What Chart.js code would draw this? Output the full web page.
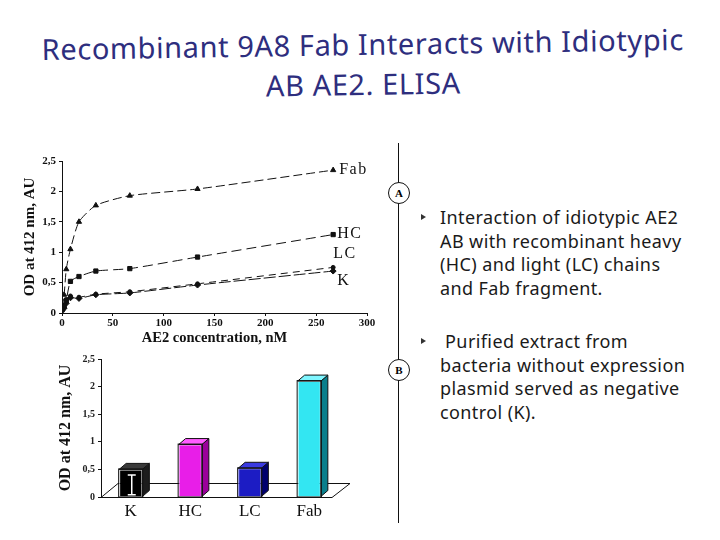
<!DOCTYPE html>
<html>
<head>
<meta charset="utf-8">
<script src="https://cdn.jsdelivr.net/npm/chart.js@4/dist/chart.umd.min.js"></script>
<style>
  body { margin: 0; width: 720px; height: 540px; background: #fff; position: relative; overflow: hidden; font-family: "Noto Sans", sans-serif; }
  #title { position: absolute; left: 3px; top: 24px; width: 720px; text-align: center; color: #2e2e7e; font-size: 29px; letter-spacing: 0.6px; line-height: 40px; white-space: nowrap; transform: rotate(-0.9deg); }
  #lineWrap { position: absolute; left: 15px; top: 145px; width: 365px; height: 205px; }
  #barWrap { position: absolute; left: 40px; top: 345px; width: 330px; height: 185px; }
  canvas { display: block; }
  #divider { position: absolute; left: 398px; top: 143px; width: 1px; height: 380px; background: #111; }
  .badge { position: absolute; left: 388px; width: 20px; height: 20px; border: 1px solid #111; border-radius: 50%; background: #fff; font: bold 11px "Liberation Serif", serif; text-align: center; line-height: 20px; }
  .notes { position: absolute; left: 440px; width: 280px; font-size: 18px; letter-spacing: 0.4px; line-height: 23.5px; color: #1a1a1a; white-space: nowrap; }
  .notes::before { content: ""; position: absolute; left: -19px; top: 8px; border-left: 5px solid #333; border-top: 3.5px solid transparent; border-bottom: 3.5px solid transparent; }
</style>
</head>
<body>
<div id="title">Recombinant 9A8 Fab Interacts with Idiotypic<br>AB AE2. ELISA</div>

<div id="lineWrap"><canvas id="curveChart" width="365" height="205"></canvas></div>
<div id="barWrap"><canvas id="barChart" width="330" height="185"></canvas></div>

<div id="divider"></div>
<div class="badge" style="top:182px">A</div>
<div class="badge" style="top:359px">B</div>

<div class="notes" style="top:206px">Interaction of idiotypic AE2<br>AB with recombinant heavy<br>(HC) and light (LC) chains<br>and Fab fragment.</div>
<div class="notes" style="top:330px">&nbsp;Purified extract from<br>bacteria without expression<br>plasmid served as negative<br>control (K).</div>

<script>
// (A) ELISA titration, OD at 412 nm vs AE2 concentration
const concNM = [0, 2.1, 4.2, 8.3, 16.7, 33.3, 66.7, 133.3, 266.7];
const odFab = [0.08, 0.3, 0.72, 1.05, 1.5, 1.77, 1.93, 2.04, 2.35];
const odHC = [0.05, 0.12, 0.21, 0.52, 0.6, 0.69, 0.73, 0.92, 1.29];
const odLC = [0.06, 0.12, 0.22, 0.28, 0.26, 0.31, 0.35, 0.48, 0.75];
const odK = [0.04, 0.08, 0.16, 0.25, 0.24, 0.3, 0.33, 0.46, 0.69];

// (B) single concentration
const barLabels = ["K", "HC", "LC", "Fab"];
const barValues = [0.5, 0.95, 0.52, 2.1];
const barErrLow = [0.04, null, null, null];
const barErrHigh = [0.4, null, null, null];

const odTicks = [0, 0.5, 1, 1.5, 2, 2.5];

const serif = "'Liberation Serif', 'Times New Roman', serif";
const commaTick = (v) => String(v).replace(".", ",");
const pts = (ys) => ys.map((y, i) => ({ x: concNM[i], y: y }));

// series names drawn next to the last point
const endLabels = {
    id: "endLabels",
    afterDatasetsDraw(chart) {
        const ctx = chart.ctx;
        ctx.save();
        ctx.font = "16px " + serif;
        ctx.letterSpacing = "1.5px";
        ctx.fillStyle = "#111";
        ctx.textBaseline = "middle";
        chart.data.datasets.forEach((ds, i) => {
            const meta = chart.getDatasetMeta(i);
            const p = meta.data[meta.data.length - 1];
            ctx.fillText(ds.label, p.x + ds.labelDx, p.y + ds.labelDy);
        });
        ctx.restore();
    },
};

const lineDs = (label, ys, shape, dash, dx, dy) => ({
    label: label,
    data: pts(ys),
    borderColor: "#111",
    backgroundColor: "#111",
    borderWidth: 1,
    borderDash: dash,
    pointStyle: shape,
    pointRadius: shape === "circle" ? 2 : 3,
    tension: 0.2,
    labelDx: dx,
    labelDy: dy,
});

new Chart(document.getElementById("curveChart"), {
    type: "line",
    data: {
        datasets: [
            lineDs("Fab", odFab, "triangle", [9, 4], 6, 0),
            lineDs("HC", odHC, "rect", [10, 5], 4, -1),
            lineDs("LC", odLC, "circle", [7, 5], 0, -14),
            lineDs("K", odK, "rectRot", [12, 3], 4, 10),
        ],
    },
    plugins: [endLabels],
    options: {
        responsive: false,
        animation: false,
        layout: { padding: { top: 16, right: 13, left: 0, bottom: 0 } },
        plugins: { legend: { display: false }, tooltip: { enabled: false } },
        scales: {
            x: {
                type: "linear",
                min: 0,
                max: 300,
                ticks: { stepSize: 50, padding: 1, color: "#111", font: { family: serif, size: 11, weight: "bold" } },
                grid: { drawOnChartArea: false, tickLength: 3, color: "#111" },
                border: { color: "#111" },
                title: { display: true, text: "AE2 concentration, nM", color: "#111", padding: { top: 0, bottom: 3 }, font: { family: serif, size: 14.5, weight: "bold" } },
                afterFit: (s) => { s.height = 37; },
            },
            y: {
                min: 0,
                max: 2.5,
                afterBuildTicks: (s) => { s.ticks = odTicks.map((v) => ({ value: v })); },
                ticks: { callback: commaTick, padding: 3, color: "#111", font: { family: serif, size: 11, weight: "bold" } },
                grid: { drawOnChartArea: false, tickLength: 3, color: "#111" },
                border: { color: "#111" },
                title: { display: true, text: "OD at 412 nm, AU", color: "#111", padding: { top: 6 }, font: { family: serif, size: 15, weight: "bold" } },
                afterFit: (s) => { s.width = 47; },
            },
        },
    },
});

// floor, 3D faces and the error bar on the control
const sideColors = ["#1c1c1c", "#9a009a", "#00006e", "#0a7f8c"];
const topColors = ["#3a3a3a", "#ff5cff", "#3a3ae0", "#7ff6ff"];

const bar3d = {
    id: "bar3d",
    beforeDatasetsDraw(chart) {
        const { left, right, bottom } = chart.chartArea;
        const ctx = chart.ctx;
        ctx.save();
        ctx.strokeStyle = "#111";
        ctx.lineWidth = 1;
        ctx.beginPath();
        ctx.moveTo(left, bottom + 0.5);
        ctx.lineTo(right - 7, bottom + 0.5);
        ctx.lineTo(right + 11, bottom - 13.5);
        ctx.lineTo(left + 17, bottom - 13.5);
        ctx.closePath();
        ctx.stroke();
        ctx.restore();
    },
    afterDatasetsDraw(chart) {
        const ctx = chart.ctx;
        const yScale = chart.scales.y;
        const meta = chart.getDatasetMeta(0);
        const dx = 7, dy = -6;
        ctx.save();
        ctx.lineWidth = 1;
        ctx.strokeStyle = "#111";
        meta.data.forEach((bar, i) => {
            const { x, y, base, width } = bar.getProps(["x", "y", "base", "width"], true);
            const l = x - width / 2, r = x + width / 2;
            ctx.beginPath();
            ctx.moveTo(r, y); ctx.lineTo(r + dx, y + dy); ctx.lineTo(r + dx, base + dy); ctx.lineTo(r, base);
            ctx.closePath();
            ctx.fillStyle = sideColors[i];
            ctx.fill(); ctx.stroke();
            ctx.beginPath();
            ctx.moveTo(l, y); ctx.lineTo(l + dx, y + dy); ctx.lineTo(r + dx, y + dy); ctx.lineTo(r, y);
            ctx.closePath();
            ctx.fillStyle = topColors[i];
            ctx.fill(); ctx.stroke();
            ctx.strokeRect(l - 0.5, y - 0.5, width + 1, base - y + 1);
            if (barErrLow[i] != null) {
                const y1 = yScale.getPixelForValue(barErrLow[i]);
                const y2 = yScale.getPixelForValue(barErrHigh[i]);
                ctx.strokeStyle = "#fff";
                ctx.lineWidth = 1.5;
                ctx.beginPath();
                ctx.moveTo(x + 1, y1); ctx.lineTo(x + 1, y2);
                ctx.moveTo(x - 3, y1); ctx.lineTo(x + 5, y1);
                ctx.moveTo(x - 3, y2); ctx.lineTo(x + 5, y2);
                ctx.stroke();
                ctx.strokeStyle = "#111";
                ctx.lineWidth = 1;
            }
        });
        ctx.restore();
    },
};

new Chart(document.getElementById("barChart"), {
    type: "bar",
    data: {
        labels: barLabels,
        datasets: [
            {
                data: barValues,
                backgroundColor: ["#000000", "#e81ee8", "#1c1cc4", "#33e6f2"],
                borderColor: ["#e8e8e8", "#ff9cff", "#8c8cff", "#d8ffff"],
                borderWidth: 1,
                barPercentage: 0.39,
                categoryPercentage: 1,
            },
        ],
    },
    plugins: [bar3d],
    options: {
        responsive: false,
        animation: false,
        layout: { padding: { top: 14, right: 31, left: 0, bottom: 0 } },
        plugins: { legend: { display: false }, tooltip: { enabled: false } },
        scales: {
            x: {
                ticks: { padding: -4, color: "#111", font: { family: serif, size: 17 } },
                grid: { display: false },
                border: { display: false },
                afterFit: (s) => { s.height = 33; },
            },
            y: {
                min: 0,
                max: 2.5,
                afterBuildTicks: (s) => { s.ticks = odTicks.map((v) => ({ value: v })); },
                ticks: { callback: commaTick, padding: 3, color: "#222", font: { family: serif, size: 10, weight: "bold" } },
                grid: { drawOnChartArea: false, tickLength: 3, color: "#111" },
                border: { color: "#111" },
                title: { display: true, text: "OD at 412 nm, AU", color: "#111", padding: { top: 16 }, font: { family: serif, size: 16, weight: "bold" } },
                afterFit: (s) => { s.width = 61; },
            },
        },
    },
});
</script>
</body>
</html>
